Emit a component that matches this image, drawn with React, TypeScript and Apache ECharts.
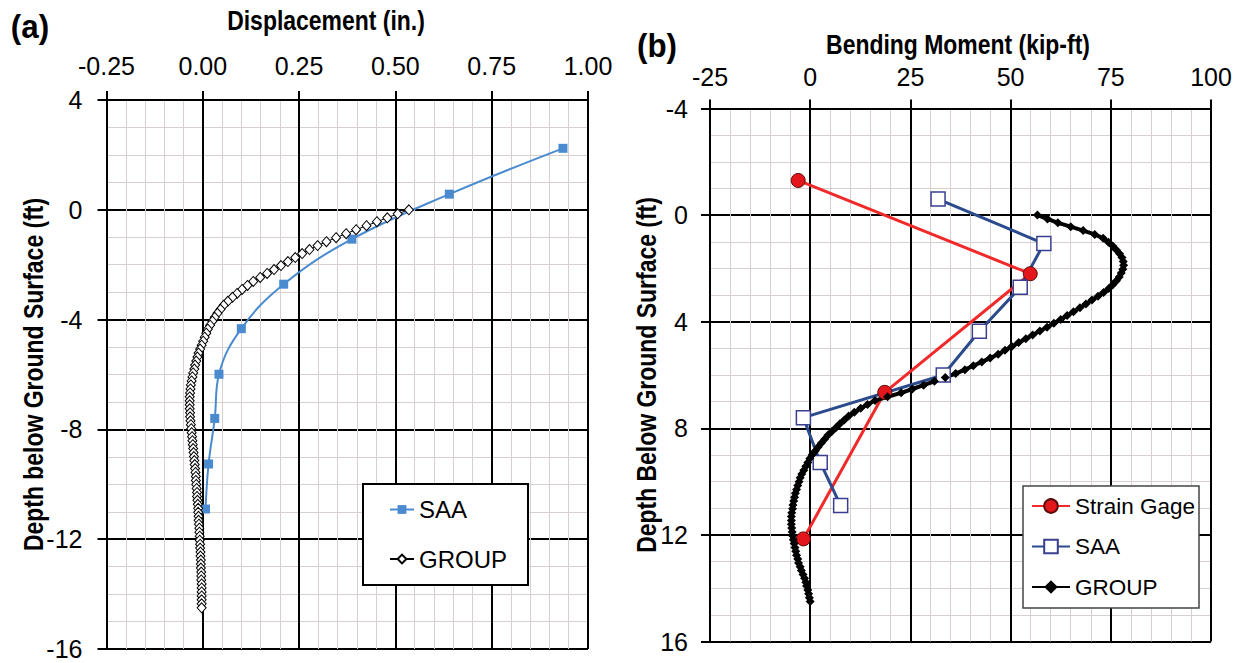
import React, { useEffect, useRef } from "react";
import * as echarts from "echarts";

const FONT = "'Liberation Sans Narrow', 'Arial Narrow', 'Liberation Sans', Arial, sans-serif";

// ---------- (a) Displacement ----------
const dispTitle = "Displacement (in.)";
const depthTitleA = "Depth below Ground Surface (ft)";
const saaElevA = [2.24, 0.57, -1.07, -2.71, -4.33, -5.99, -7.6, -9.26, -10.9];
const saaDispA = [0.935, 0.64, 0.387, 0.21, 0.1, 0.042, 0.031, 0.015, 0.007];

// GROUP analysis nodes (depth below ground surface, ft)
const groupDepth = [
  0, 0.145, 0.29, 0.435, 0.58, 0.725, 0.87, 1.015, 1.16, 1.305,
  1.45, 1.595, 1.74, 1.885, 2.03, 2.175, 2.32, 2.465, 2.61, 2.755,
  2.9, 3.045, 3.19, 3.335, 3.48, 3.625, 3.77, 3.915, 4.06, 4.205,
  4.35, 4.495, 4.64, 4.785, 4.93, 5.075, 5.22, 5.365, 5.51, 5.655,
  5.8, 5.945, 6.09, 6.235, 6.38, 6.525, 6.67, 6.815, 6.96, 7.105,
  7.25, 7.395, 7.54, 7.685, 7.83, 7.975, 8.12, 8.265, 8.41, 8.555,
  8.7, 8.845, 8.99, 9.135, 9.28, 9.425, 9.57, 9.715, 9.86, 10.005,
  10.15, 10.295, 10.44, 10.585, 10.73, 10.875, 11.02, 11.165, 11.31, 11.455,
  11.6, 11.745, 11.89, 12.035, 12.18, 12.325, 12.47, 12.615, 12.76, 12.905,
  13.05, 13.195, 13.34, 13.485, 13.63, 13.775, 13.92, 14.065, 14.21, 14.355,
  14.5,
];
const groupDisp = [
  0.535, 0.506, 0.479, 0.452, 0.425, 0.398, 0.372, 0.346, 0.321, 0.298,
  0.277, 0.258, 0.24, 0.221, 0.203, 0.185, 0.167, 0.149, 0.131, 0.116,
  0.102, 0.089, 0.077, 0.065, 0.054, 0.046, 0.038, 0.031, 0.025, 0.019,
  0.013, 0.009, 0.005, 0.001, -0.003, -0.007, -0.011, -0.014, -0.017, -0.02,
  -0.022, -0.025, -0.027, -0.029, -0.031, -0.032, -0.033, -0.034, -0.034, -0.034,
  -0.034, -0.033, -0.033, -0.032, -0.031, -0.03, -0.029, -0.028, -0.027, -0.026,
  -0.025, -0.024, -0.023, -0.022, -0.021, -0.02, -0.019, -0.018, -0.018, -0.017,
  -0.016, -0.015, -0.015, -0.014, -0.013, -0.012, -0.012, -0.011, -0.011, -0.01,
  -0.009, -0.009, -0.008, -0.008, -0.007, -0.007, -0.006, -0.006, -0.005, -0.005,
  -0.005, -0.004, -0.004, -0.004, -0.003, -0.003, -0.003, -0.003, -0.003, -0.003,
  -0.003,
];

// ---------- (b) Bending moment ----------
const momentTitle = "Bending Moment (kip-ft)";
const depthTitleB = "Depth Below Ground Surface (ft)";
const sgDepth = [-1.3, 2.2, 6.65, 12.15];
const sgMoment = [-3.0, 54.9, 18.6, -1.7];
const saaDepthB = [-0.6, 1.07, 2.71, 4.36, 6.0, 7.6, 9.28, 10.9];
const saaMomentB = [31.9, 58.3, 52.4, 42.2, 33.2, -1.7, 2.5, 7.6];
const groupMoment = [
  56.7, 59.2, 61.8, 65.0, 68.1, 71.0, 73.1, 74.4, 75.5, 76.4,
  77.2, 77.8, 78.1, 78.2, 78.0, 77.6, 77.1, 76.4, 75.5, 74.5,
  73.2, 71.8, 70.3, 68.8, 67.3, 65.7, 64.1, 62.5, 60.8, 59.1,
  57.3, 55.5, 53.8, 52.0, 50.3, 48.6, 46.9, 44.9, 42.8, 40.7,
  38.6, 36.3, 33.7, 31.0, 28.3, 25.5, 22.7, 19.3, 16.2, 14.3,
  12.6, 11.0, 9.6, 8.5, 7.4, 6.4, 5.4, 4.4, 3.6, 2.8,
  2.0, 1.3, 0.5, -0.1, -0.6, -1.1, -1.6, -2.1, -2.5, -2.8,
  -3.1, -3.4, -3.7, -3.9, -4.1, -4.3, -4.4, -4.6, -4.7, -4.7,
  -4.7, -4.6, -4.5, -4.4, -4.2, -4.0, -3.8, -3.6, -3.4, -3.1,
  -2.9, -2.5, -2.2, -1.8, -1.4, -1.1, -0.9, -0.6, -0.4, -0.2,
  0.0,
];

const MAJOR = { color: "#000", width: 2 };
const MINOR = { color: "#d8cfcf", width: 1 };
const TICK_FONT = 25;

function valueAxis(extra: any) {
  return {
    type: "value",
    axisLine: { show: true, onZero: false, lineStyle: MAJOR },
    axisTick: { show: true, length: 9, lineStyle: MAJOR },
    splitLine: { show: true, lineStyle: MAJOR },
    minorSplitLine: { show: true, lineStyle: MINOR },
    ...extra,
  };
}

function label(margin: number, formatter?: (v: number) => string) {
  const l: any = { fontSize: TICK_FONT, fontFamily: FONT, color: "#000", margin };
  if (formatter) l.formatter = formatter;
  return l;
}

function titleText(text: string, x: number, y: number, size: number, rot = 0, sx = 0.82) {
  return {
    type: "text",
    x,
    y,
    rotation: rot,
    scaleX: sx,
    z: 30,
    style: {
      text,
      fontSize: size,
      fontWeight: "bold",
      fontFamily: FONT,
      fill: "#000",
      align: "center",
      verticalAlign: "middle",
    },
  };
}

function buildOption() {
  return {
    animation: false,
    backgroundColor: "#fff",
    grid: [
      { left: 106.5, top: 100, width: 481.5, height: 549 },
      { left: 710, top: 108.5, width: 501, height: 533 },
    ],
    xAxis: [
      valueAxis({
        gridIndex: 0,
        position: "top",
        min: -0.25,
        max: 1,
        interval: 0.25,
        minorTick: { show: false, splitNumber: 5 },
        axisLabel: label(22, (v: number) => v.toFixed(2)),
      }),
      valueAxis({
        gridIndex: 1,
        position: "top",
        min: -25,
        max: 100,
        interval: 25,
        minorTick: { show: false, splitNumber: 5 },
        axisLabel: label(19),
      }),
    ],
    yAxis: [
      valueAxis({
        gridIndex: 0,
        position: "left",
        min: -16,
        max: 4,
        interval: 4,
        minorTick: { show: false, splitNumber: 4 },
        axisLabel: label(24),
      }),
      valueAxis({
        gridIndex: 1,
        position: "left",
        inverse: true,
        min: -4,
        max: 16,
        interval: 4,
        minorTick: { show: false, splitNumber: 4 },
        axisLabel: label(22),
      }),
    ],
    legend: [
      {
        data: ["SAA", "GROUP"],
        orient: "vertical",
        left: 389,
        top: 497.5,
        itemWidth: 24,
        itemHeight: 11,
        itemGap: 25.5,
        padding: 0,
        selectedMode: false,
        z: 20,
        textStyle: { fontSize: 24, fontFamily: FONT, color: "#000" },
      },
      {
        data: ["Strain Gage", "SAA (b)", "GROUP (b)"],
        orient: "vertical",
        left: 1031,
        top: 494.5,
        itemWidth: 38,
        itemHeight: 17,
        itemGap: 17.5,
        padding: 0,
        selectedMode: false,
        z: 20,
        formatter: (n: string) => n.replace(" (b)", ""),
        textStyle: { fontSize: 22.5, fontFamily: FONT, color: "#000" },
      },
    ],
    graphic: [
      {
        type: "rect",
        z: 10,
        shape: { x: 363, y: 484, width: 165, height: 101 },
        style: { fill: "#fff", stroke: "#000", lineWidth: 2 },
      },
      {
        type: "rect",
        z: 10,
        shape: { x: 1023, y: 486, width: 176, height: 122 },
        style: { fill: "#fff", stroke: "#444", lineWidth: 1.5 },
      },
      titleText("(a)", 30, 27, 33, 0, 0.95),
      titleText(dispTitle, 326, 20, 28),
      titleText(depthTitleA, 33, 374.5, 28, Math.PI / 2),
      titleText("(b)", 657, 46, 33, 0, 0.95),
      titleText(momentTitle, 958, 44, 28),
      titleText(depthTitleB, 646, 375, 28, Math.PI / 2),
    ],
    series: [
      {
        name: "SAA",
        type: "line",
        xAxisIndex: 0,
        yAxisIndex: 0,
        data: saaDispA.map((x, i) => [x, saaElevA[i]]),
        smooth: 0.4,
        symbol: "rect",
        symbolSize: 9,
        lineStyle: { color: "#4a8bd0", width: 2 },
        itemStyle: { color: "#4a8bd0" },
      },
      {
        name: "GROUP",
        type: "line",
        xAxisIndex: 0,
        yAxisIndex: 0,
        data: groupDisp.map((x, i) => [x, -groupDepth[i]]),
        symbol: "diamond",
        symbolSize: [9, 10],
        showAllSymbol: true,
        lineStyle: { color: "#000", width: 1 },
        itemStyle: { color: "#fff", borderColor: "#000", borderWidth: 1 },
      },
      {
        name: "Strain Gage",
        type: "line",
        xAxisIndex: 1,
        yAxisIndex: 1,
        data: sgMoment.map((x, i) => [x, sgDepth[i]]),
        symbol: "circle",
        symbolSize: 14,
        lineStyle: { color: "#f02a2a", width: 3 },
        itemStyle: { color: "#e3161b", borderColor: "#5a0a0a", borderWidth: 1 },
      },
      {
        name: "SAA (b)",
        type: "line",
        xAxisIndex: 1,
        yAxisIndex: 1,
        data: saaMomentB.map((x, i) => [x, saaDepthB[i]]),
        symbol: "rect",
        symbolSize: 14,
        lineStyle: { color: "#2b4b8d", width: 3 },
        itemStyle: { color: "#fff", borderColor: "#3a3f91", borderWidth: 1.5 },
      },
      {
        name: "GROUP (b)",
        type: "line",
        xAxisIndex: 1,
        yAxisIndex: 1,
        data: groupMoment.map((x, i) => [x, groupDepth[i]]),
        symbol: "diamond",
        symbolSize: 9,
        showAllSymbol: true,
        lineStyle: { color: "#000", width: 4 },
        itemStyle: { color: "#000" },
      },
    ],
  };
}

export default function App() {
  const ref = useRef<HTMLDivElement>(null);
  useEffect(() => {
    document.body.style.margin = "0";
    const chart = echarts.init(ref.current!, null, { renderer: "svg" });
    chart.setOption(buildOption() as any);
    return () => chart.dispose();
  }, []);
  return <div ref={ref} style={{ width: 1238, height: 663, background: "#fff" }} />;
}
